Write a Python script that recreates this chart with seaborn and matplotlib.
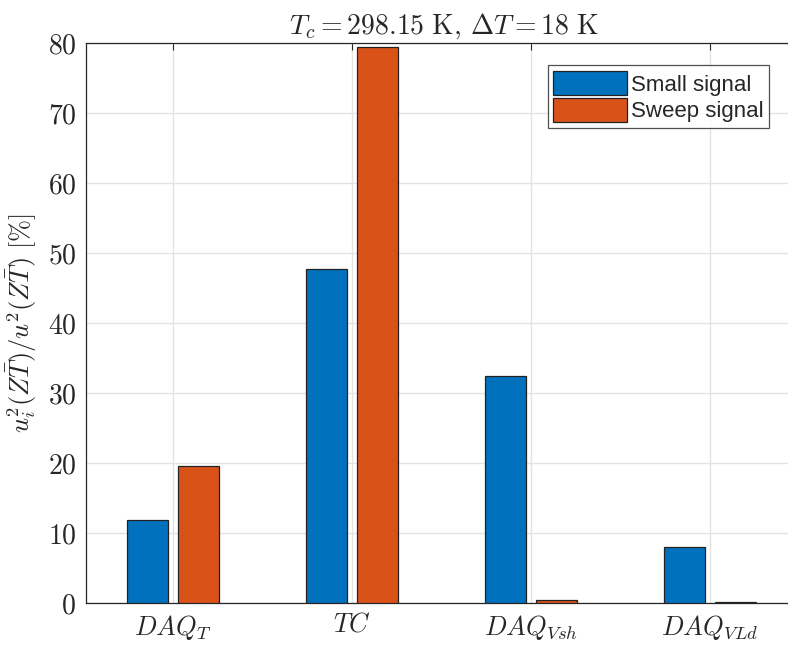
import matplotlib
matplotlib.use('Agg')
import matplotlib.pyplot as plt
import seaborn as sns
import pandas as pd

# data
categories = [r'$DAQ_T$', r'$TC$', r'$DAQ_{Vsh}$', r'$DAQ_{VLd}$']
small_signal = [11.8, 47.7, 32.4, 8.0]
sweep_signal = [19.6, 79.4, 0.5, 0.1]
series = ['Small signal', 'Sweep signal']
y_ticks = [0, 10, 20, 30, 40, 50, 60, 70, 80]

df = pd.DataFrame({
    'cat': categories * 2,
    'val': small_signal + sweep_signal,
    'series': [series[0]] * 4 + [series[1]] * 4,
})

sns.set_style('white')
plt.rcParams['font.family'] = ['Liberation Sans', 'DejaVu Sans']
plt.rcParams['mathtext.fontset'] = 'cm'

fig = plt.figure(figsize=(7.88, 6.45), dpi=100)
ax = fig.add_axes([0.1091, 0.0651, 0.9086, 0.8682])

palette = {'Small signal': '#0072BD', 'Sweep signal': '#D95319'}
sns.barplot(data=df, x='cat', y='val', hue='series', palette=palette,
            width=0.57, gap=0.19, edgecolor='#222222', linewidth=0.9,
            saturation=1, ax=ax, zorder=3)

ax.set_xlim(-0.486, 3.514)
ax.set_ylim(0, 80)
ax.set_yticks(y_ticks)
ax.set_yticklabels([f'${t}$' for t in y_ticks], fontsize=20)
ax.set_xticks(range(len(categories)))
ax.set_xticklabels(categories, fontsize=19)
ax.tick_params(direction='in', length=5, width=0.8, color='#262626',
               top=True, right=False, pad=7)
ax.grid(True, color='#e3e3e3', linewidth=1, zorder=0)
ax.set_axisbelow(True)
for s in ax.spines.values():
    s.set_color('#262626')
    s.set_linewidth(0.9)
ax.spines['right'].set_visible(False)

ax.set_xlabel('')
ax.set_ylabel(r'$u_i^2(Z\bar{T})/u^2(Z\bar{T})\ [\%]$', fontsize=19, labelpad=6)
ax.set_title(r'$T_c = 298.15\ \mathrm{K},\, \Delta T = 18\ \mathrm{K}$',
             fontsize=20, pad=7)

leg = ax.legend(loc='upper left', bbox_to_anchor=(0.645, 0.96), fontsize=16,
                frameon=True, fancybox=False, edgecolor='#262626',
                handlelength=3.3, handleheight=1.3, handletextpad=0.2,
                borderpad=0.25, labelspacing=0.1, borderaxespad=0)
leg.get_frame().set_linewidth(0.9)

fig.savefig('out.png', dpi=100)
